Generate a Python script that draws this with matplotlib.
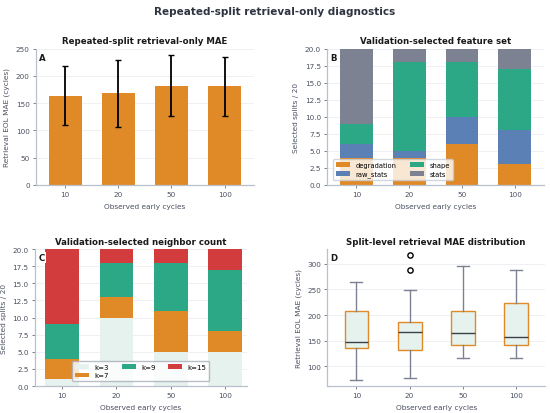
import matplotlib
matplotlib.use("Agg")
import matplotlib.pyplot as plt
import numpy as np

# ---- data ----
cycles = ["10", "20", "50", "100"]

mae_mean = [164, 168, 182, 181]
mae_std = [54, 62, 56, 54]

feature_names = ["degradation", "raw_stats", "shape", "stats"]
feature_counts = {
    "degradation": [4, 4, 6, 3],
    "raw_stats": [2, 1, 4, 5],
    "shape": [3, 13, 8, 9],
    "stats": [11, 2, 2, 3],
}

k_names = ["k=3", "k=7", "k=9", "k=15"]
k_counts = {
    "k=3": [1, 10, 5, 5],
    "k=7": [3, 3, 6, 3],
    "k=9": [5, 5, 7, 9],
    "k=15": [11, 2, 2, 3],
}

# box stats per cycle: whislo, q1, med, q3, whishi, outliers
box_whislo = [73, 76, 116, 116]
box_q1 = [136, 132, 142, 141]
box_med = [148, 166, 164, 157]
box_q3 = [207, 187, 207, 223]
box_whishi = [265, 249, 296, 289]
box_fliers = [[], [289, 317], [], []]

# ---- style ----
orange = "#e08a27"
blue = "#5b80b6"
teal = "#2ca886"
grey = "#7d8292"
red = "#d23c3c"
mint = "#e6f2ed"
text_col = "#2d3340"
spine_col = "#b9c0cc"

plt.rcParams.update({
    "font.family": "DejaVu Sans",
    "font.size": 5.2,
    "axes.edgecolor": spine_col,
    "axes.labelcolor": "#4a5060",
    "xtick.color": "#4a5060",
    "ytick.color": "#4a5060",
    "xtick.major.size": 2.5,
    "ytick.major.size": 2.5,
    "xtick.major.width": 0.5,
    "ytick.major.width": 0.5,
    "axes.linewidth": 0.9,
})

feature_colors = [orange, blue, teal, grey]
k_colors = [mint, orange, teal, red]

fig = plt.figure(figsize=(5.5, 4.14), dpi=100)
fig.suptitle("Repeated-split retrieval-only diagnostics", fontsize=7.5,
             fontweight="bold", color=text_col, y=0.982)

ax_a = fig.add_axes([0.0655, 0.551, 0.396, 0.329])
ax_b = fig.add_axes([0.595, 0.551, 0.394, 0.329])
ax_c = fig.add_axes([0.0636, 0.065, 0.385, 0.331])
ax_d = fig.add_axes([0.595, 0.065, 0.396, 0.331])

x = np.arange(len(cycles))


def style_axis(ax, title, letter, ylabel, letter_box=False):
    ax.set_title(title, fontsize=6.2, fontweight="bold", color="#1a1a1a", pad=4)
    ax.set_xlabel("Observed early cycles", fontsize=5.3)
    ax.set_ylabel(ylabel, fontsize=5.3)
    ax.set_xticks(x)
    ax.set_xticklabels(cycles)
    ax.tick_params(labelsize=5.2, pad=2)
    ax.spines["top"].set_visible(False)
    ax.spines["right"].set_visible(False)
    ax.yaxis.grid(True, color="#eef0f4", linewidth=0.7)
    ax.set_axisbelow(True)
    bbox = dict(boxstyle="square,pad=0.15", fc="white", ec="none") if letter_box else None
    ax.text(0.015, 0.97, letter, transform=ax.transAxes, fontsize=6.2,
            fontweight="bold", color="#1a1a1a", va="top", ha="left",
            bbox=bbox, zorder=10)


# A: mean MAE bars with error bars
ax_a.bar(x, mae_mean, width=0.62, color=orange, zorder=2)
ax_a.errorbar(x, mae_mean, yerr=mae_std, fmt="none", ecolor="black",
              elinewidth=1.3, capsize=2.3, capthick=1.0, zorder=3)
ax_a.set_ylim(0, 250)
ax_a.set_xlim(-0.55, 3.55)
style_axis(ax_a, "Repeated-split retrieval-only MAE", "A",
           "Retrieval EOL MAE (cycles)")

# B: feature set stacked bars
bottom = np.zeros(len(cycles))
for name, col in zip(feature_names, feature_colors):
    vals = np.array(feature_counts[name])
    ax_b.bar(x, vals, bottom=bottom, width=0.62, color=col, label=name, zorder=2)
    bottom += vals
ax_b.set_ylim(0, 20)
ax_b.set_yticks(np.arange(0, 20.1, 2.5))
ax_b.set_yticklabels([f"{v:.1f}" for v in np.arange(0, 20.1, 2.5)])
ax_b.set_xlim(-0.55, 3.55)
style_axis(ax_b, "Validation-selected feature set", "B",
           "Selected splits / 20", letter_box=True)
ax_b.legend(ncol=2, loc="lower left", fontsize=4.9, framealpha=0.8,
            borderpad=0.4, handlelength=2.1, columnspacing=2.0,
            labelspacing=0.4, edgecolor="#c8ccd4", bbox_to_anchor=(0.01, 0.01))

# C: neighbor count stacked bars
bottom = np.zeros(len(cycles))
for name, col in zip(k_names, k_colors):
    vals = np.array(k_counts[name])
    ax_c.bar(x, vals, bottom=bottom, width=0.62, color=col, label=name, zorder=2)
    bottom += vals
ax_c.set_ylim(0, 20)
ax_c.set_yticks(np.arange(0, 20.1, 2.5))
ax_c.set_yticklabels([f"{v:.1f}" for v in np.arange(0, 20.1, 2.5)])
ax_c.set_xlim(-0.5, 3.4)
style_axis(ax_c, "Validation-selected neighbor count", "C",
           "Selected splits / 20", letter_box=True)
leg_c = ax_c.legend(ncol=3, loc="lower center", fontsize=5.0, framealpha=0.8,
                    borderpad=0.4, handlelength=2.0, columnspacing=1.8,
                    labelspacing=0.4, edgecolor="#a8aebb",
                    bbox_to_anchor=(0.5, 0.01))
leg_c.get_frame().set_linewidth(1.0)

# D: boxplots from summary stats
stats = []
for i in range(len(cycles)):
    stats.append(dict(whislo=box_whislo[i], q1=box_q1[i], med=box_med[i],
                      q3=box_q3[i], whishi=box_whishi[i],
                      fliers=box_fliers[i], label=cycles[i]))
ax_d.bxp(stats, positions=x, widths=0.45, patch_artist=True,
         boxprops=dict(facecolor=mint, edgecolor=orange, linewidth=1.0),
         medianprops=dict(color="#3a4048", linewidth=1.0),
         whiskerprops=dict(color=grey, linewidth=1.0),
         capprops=dict(color=grey, linewidth=1.0),
         flierprops=dict(marker="o", markerfacecolor="white",
                         markeredgecolor="black", markersize=3.8,
                         markeredgewidth=1.0))
ax_d.set_ylim(61, 329)
ax_d.set_yticks([100, 150, 200, 250, 300])
ax_d.set_xlim(-0.55, 3.55)
style_axis(ax_d, "Split-level retrieval MAE distribution", "D",
           "Retrieval EOL MAE (cycles)")

fig.savefig("out.png", dpi=100)
